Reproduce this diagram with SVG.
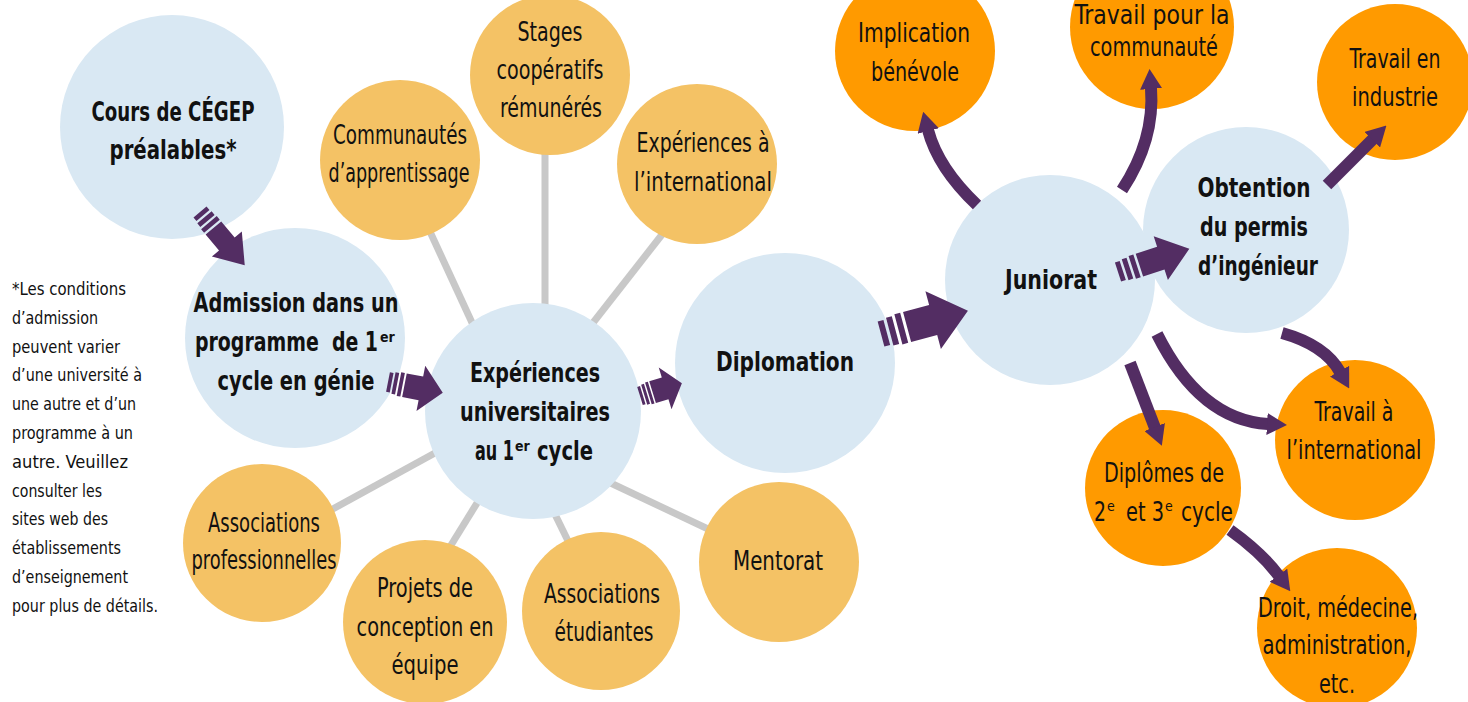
<svg xmlns="http://www.w3.org/2000/svg" width="1468" height="702" viewBox="0 0 1468 702">
<style>
text{font-family:"Liberation Sans Narrow","DejaVu Sans Condensed","Liberation Sans",sans-serif;font-size:26px;fill:#111;text-anchor:middle}
.b{font-weight:bold}
.s{text-anchor:start}
.e{text-anchor:end}
.sup{font-size:14px;text-anchor:start}
.note{font-size:18px;text-anchor:start}
.blue{fill:#d9e8f3}
.gold{fill:#f4c265}
.org{fill:#ff9a00}
.gl{stroke:#c8c8c8;stroke-width:7;fill:none}
.pa{fill:#532d63}
.ca{stroke:#532d63;stroke-width:12;fill:none;marker-end:url(#h)}
</style>
<defs>
<path id="sa" d="M0,-10h4v20h-4z M6,-11h4v22h-4z M12,-12h4v24h-4z M18,-12H36V-23L60,0L36,23V12H18Z"/>
<marker id="h" viewBox="0 0 20 22" refX="1" refY="11" markerWidth="20" markerHeight="22" markerUnits="userSpaceOnUse" orient="auto">
<path d="M0,0L20,11L0,22Z" fill="#532d63"/>
</marker>
</defs>
<rect width="1468" height="702" fill="#fff"/>
<g id="connectors">
<line class="gl" x1="420" y1="210" x2="480" y2="340"/>
<line class="gl" x1="545" y1="140" x2="545" y2="320"/>
<line class="gl" x1="675" y1="218" x2="585" y2="333"/>
<line class="gl" x1="320" y1="516" x2="455" y2="442"/>
<line class="gl" x1="440" y1="563" x2="490" y2="482"/>
<line class="gl" x1="570" y1="545" x2="548" y2="500"/>
<line class="gl" x1="600" y1="478" x2="725" y2="537"/>
</g>
<g id="n-cegep"><circle class="blue" cx="172" cy="127" r="112"/><text class="b" x="173" y="121" textLength="163" lengthAdjust="spacingAndGlyphs">Cours de CÉGEP</text><text class="b" x="173" y="159" textLength="127" lengthAdjust="spacingAndGlyphs">préalables*</text></g>
<g id="n-admission"><circle class="blue" cx="295" cy="338" r="110"/><text class="b" x="296" y="312" textLength="205" lengthAdjust="spacingAndGlyphs">Admission dans un</text><text class="b e" x="378" y="351" xml:space="preserve" textLength="183" lengthAdjust="spacingAndGlyphs">programme  de 1</text><text class="b sup" x="380" y="342">er</text><text class="b" x="296" y="390" textLength="157" lengthAdjust="spacingAndGlyphs">cycle en génie</text></g>
<g id="n-exp"><circle class="blue" cx="533" cy="411" r="108"/><text class="b" x="535" y="382" textLength="130" lengthAdjust="spacingAndGlyphs">Expériences</text><text class="b" x="535" y="421" textLength="150" lengthAdjust="spacingAndGlyphs">universitaires</text><text class="b e" x="514" y="460" textLength="39" lengthAdjust="spacingAndGlyphs">au 1</text><text class="b sup" x="515" y="451">er</text><text class="b s" x="537" y="460" textLength="56" lengthAdjust="spacingAndGlyphs">cycle</text></g>
<g id="n-diplomation"><circle class="blue" cx="785" cy="363" r="110"/><text class="b" x="785" y="371" textLength="138" lengthAdjust="spacingAndGlyphs">Diplomation</text></g>
<g id="n-juniorat"><circle class="blue" cx="1050" cy="280" r="105"/><text class="b" x="1051" y="289" textLength="92" lengthAdjust="spacingAndGlyphs">Juniorat</text></g>
<g id="n-permis"><circle class="blue" cx="1246" cy="230" r="103"/><text class="b" x="1254" y="197" textLength="113" lengthAdjust="spacingAndGlyphs">Obtention</text><text class="b" x="1254" y="236" textLength="108" lengthAdjust="spacingAndGlyphs">du permis</text><text class="b" x="1258" y="275" textLength="120" lengthAdjust="spacingAndGlyphs">d’ingénieur</text></g>
<g id="n-communautes"><circle class="gold" cx="400" cy="160" r="80"/><text x="400" y="144" textLength="134" lengthAdjust="spacingAndGlyphs">Communautés</text><text x="399" y="182" textLength="141" lengthAdjust="spacingAndGlyphs">d’apprentissage</text></g>
<g id="n-stages"><circle class="gold" cx="550" cy="75" r="80"/><text x="550" y="41" textLength="65" lengthAdjust="spacingAndGlyphs">Stages</text><text x="550" y="79" textLength="107" lengthAdjust="spacingAndGlyphs">coopératifs</text><text x="551" y="117" textLength="102" lengthAdjust="spacingAndGlyphs">rémunérés</text></g>
<g id="n-intl"><circle class="gold" cx="697" cy="164" r="80"/><text x="703" y="152" textLength="133" lengthAdjust="spacingAndGlyphs">Expériences à</text><text x="703" y="191" textLength="138" lengthAdjust="spacingAndGlyphs">l’international</text></g>
<g id="n-assocpro"><circle class="gold" cx="262" cy="543" r="79"/><text x="264" y="532" textLength="112" lengthAdjust="spacingAndGlyphs">Associations</text><text x="264" y="569" textLength="145" lengthAdjust="spacingAndGlyphs">professionnelles</text></g>
<g id="n-projets"><circle class="gold" cx="425" cy="622" r="82"/><text x="425" y="597" textLength="96" lengthAdjust="spacingAndGlyphs">Projets de</text><text x="425" y="636" textLength="137" lengthAdjust="spacingAndGlyphs">conception en</text><text x="425" y="674" textLength="67" lengthAdjust="spacingAndGlyphs">équipe</text></g>
<g id="n-assocetu"><circle class="gold" cx="601" cy="611" r="79"/><text x="602" y="603" textLength="116" lengthAdjust="spacingAndGlyphs">Associations</text><text x="604" y="641" textLength="99" lengthAdjust="spacingAndGlyphs">étudiantes</text></g>
<g id="n-mentorat"><circle class="gold" cx="779" cy="562" r="80"/><text x="778" y="570" textLength="90" lengthAdjust="spacingAndGlyphs">Mentorat</text></g>
<g id="n-benevole"><circle class="org" cx="915" cy="51" r="80"/><text x="914" y="42" textLength="112" lengthAdjust="spacingAndGlyphs">Implication</text><text x="915" y="81" textLength="88" lengthAdjust="spacingAndGlyphs">bénévole</text></g>
<g id="n-communaute"><circle class="org" cx="1152" cy="27" r="82"/><text x="1152" y="24" textLength="155" lengthAdjust="spacingAndGlyphs">Travail pour la</text><text x="1154" y="56" textLength="128" lengthAdjust="spacingAndGlyphs">communauté</text></g>
<g id="n-industrie"><circle class="org" cx="1395" cy="82" r="78"/><text x="1395" y="68" textLength="91" lengthAdjust="spacingAndGlyphs">Travail en</text><text x="1395" y="106" textLength="86" lengthAdjust="spacingAndGlyphs">industrie</text></g>
<g id="n-travintl"><circle class="org" cx="1355" cy="440" r="80"/><text x="1354" y="421" textLength="79" lengthAdjust="spacingAndGlyphs">Travail à</text><text x="1354" y="459" textLength="135" lengthAdjust="spacingAndGlyphs">l’international</text></g>
<g id="n-cycles"><circle class="org" cx="1163" cy="488" r="78"/><text x="1164" y="482" textLength="120" lengthAdjust="spacingAndGlyphs">Diplômes de</text>
<text class="e" x="1106" y="521" textLength="12" lengthAdjust="spacingAndGlyphs">2</text><text class="sup" x="1107" y="511">e</text>
<text class="e" x="1164" y="521" textLength="38" lengthAdjust="spacingAndGlyphs">et 3</text><text class="sup" x="1165" y="511">e</text>
<text class="s" x="1181" y="521" textLength="52" lengthAdjust="spacingAndGlyphs">cycle</text></g>
<g id="n-droit"><circle class="org" cx="1337" cy="628" r="80"/><text x="1338" y="617" textLength="160" lengthAdjust="spacingAndGlyphs">Droit, médecine,</text><text x="1337" y="654" textLength="149" lengthAdjust="spacingAndGlyphs">administration,</text><text x="1337" y="693" textLength="36" lengthAdjust="spacingAndGlyphs">etc.</text></g>
<g id="note">
<text class="note" x="12" y="295" textLength="114" lengthAdjust="spacingAndGlyphs">*Les conditions</text>
<text class="note" x="12" y="324" textLength="86" lengthAdjust="spacingAndGlyphs">d’admission</text>
<text class="note" x="12" y="353" textLength="108" lengthAdjust="spacingAndGlyphs">peuvent varier</text>
<text class="note" x="12" y="381" textLength="130" lengthAdjust="spacingAndGlyphs">d’une université à</text>
<text class="note" x="12" y="410" textLength="124" lengthAdjust="spacingAndGlyphs">une autre et d’un</text>
<text class="note" x="12" y="439" textLength="121" lengthAdjust="spacingAndGlyphs">programme à un</text>
<text class="note" x="12" y="468" textLength="116" lengthAdjust="spacingAndGlyphs">autre. Veuillez</text>
<text class="note" x="12" y="497" textLength="90" lengthAdjust="spacingAndGlyphs">consulter les</text>
<text class="note" x="12" y="525" textLength="96" lengthAdjust="spacingAndGlyphs">sites web des</text>
<text class="note" x="12" y="554" textLength="109" lengthAdjust="spacingAndGlyphs">établissements</text>
<text class="note" x="12" y="583" textLength="116" lengthAdjust="spacingAndGlyphs">d’enseignement</text>
<text class="note" x="12" y="612" textLength="146" lengthAdjust="spacingAndGlyphs">pour plus de détails.</text>
</g>
<g id="arrows">
<use href="#sa" class="pa" transform="translate(200,212) rotate(50) scale(1.16,0.85)"/>
<use href="#sa" class="pa" transform="translate(388,382) rotate(11) scale(0.93,1)"/>
<use href="#sa" class="pa" transform="translate(640,396) rotate(-17) scale(0.73,0.95)"/>
<use href="#sa" class="pa" transform="translate(881,334) rotate(-15) scale(1.5,1.3)"/>
<use href="#sa" class="pa" transform="translate(1118,272) rotate(-18) scale(1.25,1)"/>
<path class="ca" d="M977,205 Q938,168 928,130"/>
<path class="ca" d="M1122,190 Q1155,140 1151,88"/>
<path class="ca" d="M1327,185 L1373,139"/>
<path class="ca" d="M1282,333 Q1325,345 1340,372"/>
<path class="ca" d="M1157,334 Q1200,420 1268,424"/>
<path class="ca" d="M1130,363 L1155,428"/>
<path class="ca" d="M1230,530 Q1262,553 1279,576"/>
</g>
</svg>
